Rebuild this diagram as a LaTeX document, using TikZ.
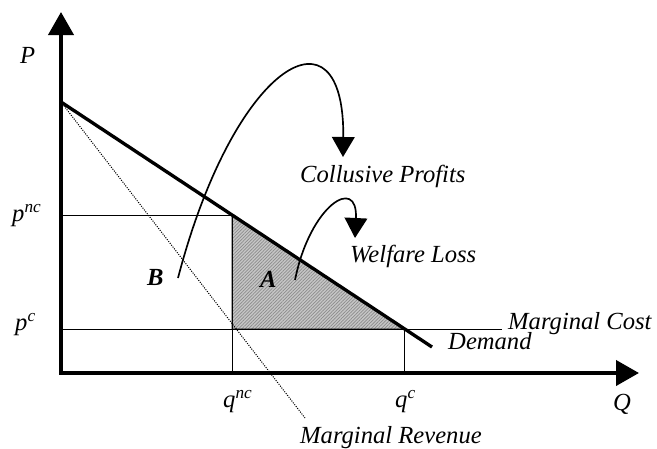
\documentclass[tikz,border=0pt]{standalone}
\usepackage{fontspec}
\setmainfont{Liberation Serif}
\usetikzlibrary{arrows.meta,patterns.meta}
\begin{document}
\begin{tikzpicture}[x=0.03cm,y=-0.03cm,
  lbl/.style={inner sep=0pt, anchor=base west, font=\fontsize{21}{25}\selectfont\itshape},
  boldlbl/.style={lbl, font=\fontsize{21}{25}\selectfont\bfseries\itshape},
  axis/.style={line width=0.12cm, {Triangle[length=0.69cm,width=0.75cm]}-{Triangle[length=0.69cm,width=0.75cm]}},
  guide/.style={line width=0.03cm},
  demand/.style={line width=0.1cm},
  mrline/.style={line width=0.03cm, dash pattern=on 0.9pt off 1.1pt},
  pointer/.style={line width=0.05cm, -{Triangle[length=0.6cm,width=0.68cm]}},
  loss/.style={pattern={Lines[angle=45,distance=2pt,line width=0.6pt]}, pattern color=gray!90, preaction={fill=gray!45}}]
\useasboundingbox (0,0) rectangle (657,448);
\coordinate (O) at (61,373);
\coordinate (ytop) at (61,12);
\coordinate (xend) at (639,373);
\coordinate (dtop) at (61,102);
\coordinate (dend) at (432,347);
\coordinate (mrend) at (305,418);
\coordinate (pnc) at (61,215);
\coordinate (pc) at (61,329);
\coordinate (knc) at (232,215);
\coordinate (qnc) at (232,373);
\coordinate (kc) at (404,329);
\coordinate (qc) at (404,373);
\coordinate (mcend) at (502,329);
\coordinate (bigstart) at (178,278);
\coordinate (bigtip) at (343,157);
\coordinate (smallstart) at (295,280);
\coordinate (smalltip) at (355,238);
\fill[loss] (knc) |- (kc) -- cycle;
\draw[guide] (knc) |- (kc) -- cycle;
\draw[guide] (pnc) -- (knc) -- (qnc);
\draw[guide] (pc) -- (mcend);
\draw[guide] (kc) -- (qc);
\draw[mrline] (dtop) -- (mrend);
\draw[demand] (dtop) -- (dend);
\draw[axis] (xend) -- (O) -- (ytop);
\draw[pointer] (bigstart) .. controls (235,60) and (345,0) .. (bigtip);
\draw[pointer] (smallstart) .. controls (310,205) and (358,175) .. (smalltip);
\node[lbl] (plab) at (20,63) {P};
\node[lbl] (pnclab) at (12,221) {p\textsuperscript{nc}};
\node[lbl] (pclab) at (15,330) {p\textsuperscript{c}};
\node[lbl] (qnclab) at (223,407) {q\textsuperscript{nc}};
\node[lbl] (qclab) at (395,407) {q\textsuperscript{c}};
\node[lbl] (qlab) at (613,410) {Q};
\node[lbl] (mrlab) at (300,443) {Marginal Revenue};
\node[lbl] (mclab) at (508,329) {Marginal Cost};
\node[lbl] (dlab) at (448,349) {Demand};
\node[lbl] (cplab) at (300,182) {Collusive Profits};
\node[lbl] (wllab) at (350,262) {Welfare Loss};
\node[boldlbl] (blab) at (147,285) {B};
\node[boldlbl] (alab) at (260,287) {A};
\end{tikzpicture}
\end{document}
